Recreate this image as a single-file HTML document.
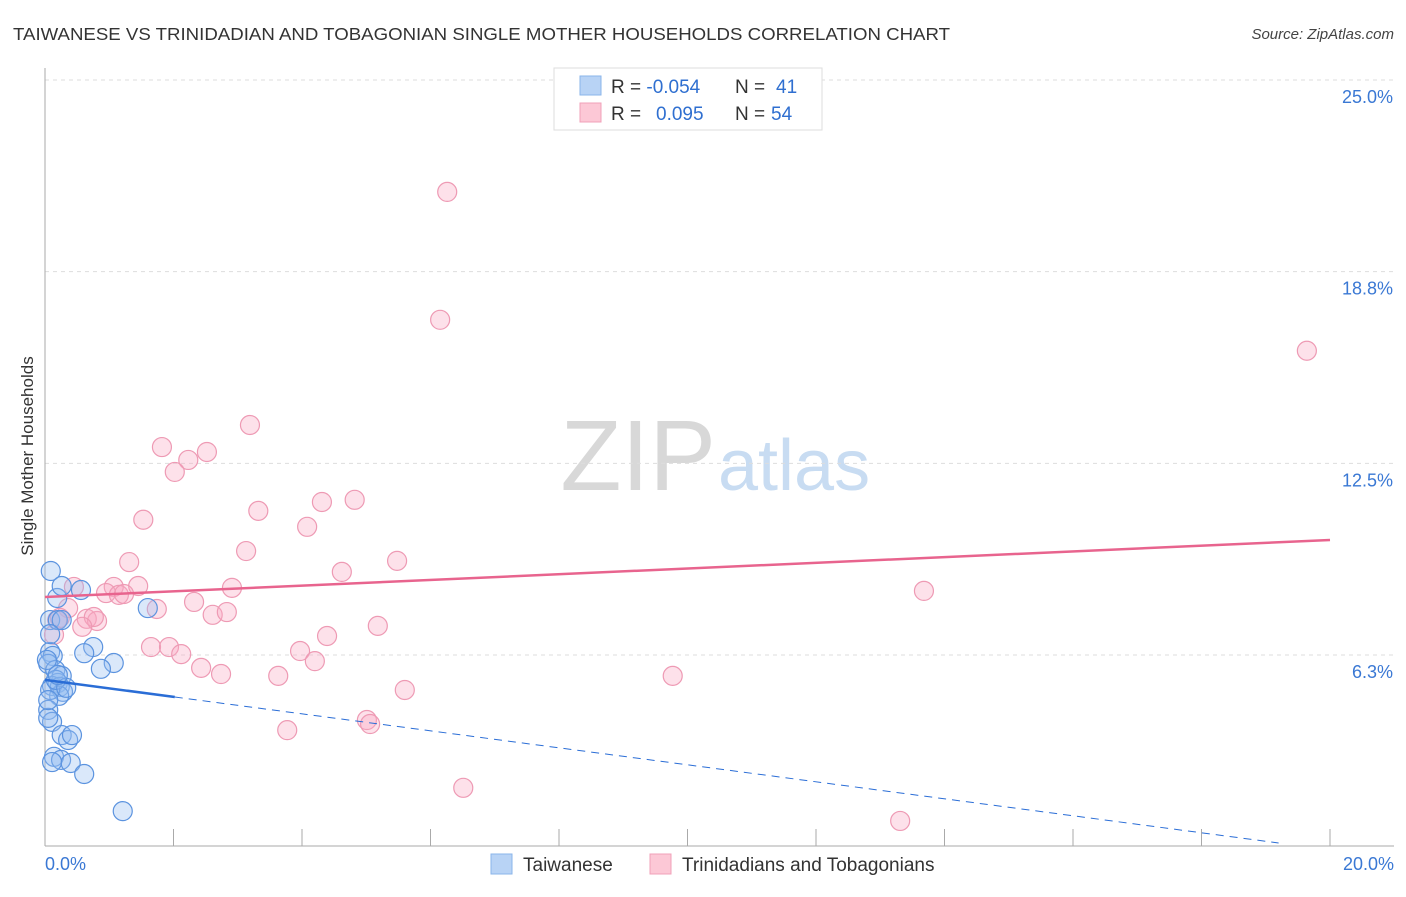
<!DOCTYPE html>
<html><head><meta charset="utf-8"><style>
body{margin:0;background:#fff;font-family:"Liberation Sans",sans-serif}
svg text{font-family:"Liberation Sans",sans-serif}
</style></head><body>
<svg id="c" width="1406" height="892" xmlns="http://www.w3.org/2000/svg">
<text x="13" y="40" font-size="17.5" fill="#333" textLength="937" lengthAdjust="spacingAndGlyphs">TAIWANESE VS TRINIDADIAN AND TOBAGONIAN SINGLE MOTHER HOUSEHOLDS CORRELATION CHART</text>
<text x="1394" y="39" font-size="15" fill="#444" text-anchor="end" font-style="italic">Source: ZipAtlas.com</text>
<text x="716" y="490" font-size="100" text-anchor="end" fill="#d8d8d8" font-family="Liberation Serif">ZIP</text>
<text x="718" y="490" font-size="72" fill="#c8dcf2">atlas</text>
<g id="grid"></g><g id="pts"></g><g id="trend"></g>
<text transform="translate(33,456) rotate(-90)" font-size="17" fill="#333" text-anchor="middle">Single Mother Households</text>
<g>
<rect x="554" y="68" width="268" height="62" fill="#fff" stroke="#ddd"/>
<rect x="580" y="76" width="21" height="19" fill="#b8d3f5" stroke="#8ab4ea"/>
<rect x="580" y="103" width="21" height="19" fill="#fcc8d6" stroke="#f0a0b8"/>
<text x="611" y="93" font-size="19" fill="#333">R = <tspan fill="#2f6fd0">-0.054</tspan><tspan x="735">N = </tspan><tspan fill="#2f6fd0" x="776">41</tspan></text>
<text x="611" y="120" font-size="19" fill="#333">R = <tspan fill="#2f6fd0" x="656">0.095</tspan><tspan x="735">N = </tspan><tspan fill="#2f6fd0" x="771">54</tspan></text>
</g>
<g>
<rect x="491" y="854" width="21" height="20" fill="#b8d3f5" stroke="#8ab4ea"/>
<text x="523" y="871" font-size="19" fill="#333">Taiwanese</text>
<rect x="650" y="854" width="21" height="20" fill="#fcc8d6" stroke="#f0a0b8"/>
<text x="682" y="871" font-size="19" fill="#333">Trinidadians and Tobagonians</text>
</g>
</svg>
<script>
const yTicks=[6.3,12.5,18.8,25.0];
const blueX=[.09,.19,.26,.56,1.60,.08,.20,.26,.75,.61,1.07,.87,.08,.12,.05,.16,.26,.20,.11,.23,.28,.22,.05,.11,.05,.26,.36,.42,.14,.25,.11,.40,.61,1.21,.08,.17,.03,.08,.05,.33,.20];
const blueY=[8.99,8.11,8.50,8.37,7.78,7.39,7.39,7.39,6.51,6.31,5.99,5.80,6.35,6.22,5.96,5.76,5.57,5.34,5.24,5.21,5.05,4.92,4.46,4.07,4.20,3.64,3.48,3.64,2.93,2.83,2.76,2.73,2.37,1.16,5.11,5.44,6.09,6.93,4.78,5.18,5.60];
const pinkX=[6.26,6.15,19.64,3.19,1.82,2.52,2.23,2.02,4.31,4.82,3.32,1.53,4.08,3.13,1.31,5.48,4.62,.45,2.91,1.45,1.07,.95,1.15,1.23,13.68,.36,1.74,2.32,2.61,2.83,.19,.65,.81,.76,.58,.14,5.18,4.39,1.65,1.93,2.12,3.97,4.20,2.43,2.74,3.63,9.77,5.60,5.01,5.06,3.77,6.51,13.31,.23];
const pinkY=[21.35,17.18,16.17,13.75,13.03,12.87,12.61,12.22,11.24,11.31,10.95,10.66,10.43,9.64,9.28,9.32,8.96,8.47,8.44,8.50,8.47,8.27,8.21,8.24,8.34,7.78,7.75,7.98,7.56,7.65,7.39,7.43,7.36,7.49,7.17,6.91,7.20,6.87,6.51,6.51,6.28,6.38,6.05,5.83,5.63,5.57,5.57,5.11,4.13,4.00,3.80,1.92,0.84,7.46];
const blueTrend=[5.44,-0.277]; // intercept, slope
const blueSolidEnd=2.02;
const blueDashEnd=19.2;
const pinkTrend=[8.14,0.093];
const X=v=>45+v*64.25, Y=v=>846.7-v*30.67;
const NS="http://www.w3.org/2000/svg";
function mk(p,t,a){const e=document.createElementNS(NS,t);for(const k in a)e.setAttribute(k,a[k]);p.appendChild(e);return e;}
const g=document.getElementById('grid');
[6.25,12.5,18.75,25].forEach((v,i)=>{
 const l=mk(g,'line',{x1:45,x2:1394,y1:Y(v),y2:Y(v),stroke:'#ddd','stroke-dasharray':'4,4'});
 
 
 const t=mk(g,'text',{x:1393,y:Y(v)+23,'font-size':18,fill:'#3a78d4','text-anchor':'end'});
 t.textContent=yTicks[i].toFixed(1)+'%';
 
 
});
mk(g,'line',{x1:45,x2:45,y1:68,y2:846,stroke:'#aaa'});
mk(g,'line',{x1:45,x2:1394,y1:846,y2:846,stroke:'#aaa'});
for(let i=1;i<=10;i++){const t=mk(g,'line',{x1:X(i*2),x2:X(i*2),y1:829,y2:846,stroke:'#aaa'});
 
 }
let t0=mk(g,'text',{x:45,y:870,'font-size':18,fill:'#3a78d4'});t0.textContent='0.0%';


let t1=mk(g,'text',{x:1394,y:870,'font-size':18,fill:'#3a78d4','text-anchor':'end'});t1.textContent='20.0%';


const P=document.getElementById('pts');
pinkX.forEach((x,i)=>{const c=mk(P,'circle',{cx:X(x),cy:Y(pinkY[i]),r:9.5,fill:'rgba(248,170,195,0.35)',stroke:'#ee9ab4','stroke-width':1.2});
 
 });
blueX.forEach((x,i)=>{const c=mk(P,'circle',{cx:X(x),cy:Y(blueY[i]),r:9.5,fill:'rgba(150,190,240,0.35)',stroke:'#5b93df','stroke-width':1.2});
 
 });
const T=document.getElementById('trend');
const bE=blueSolidEnd;
let a=mk(T,'line',{x1:X(0),y1:Y(blueTrend[0]),x2:X(bE),y2:Y(blueTrend[0]+blueTrend[1]*bE),stroke:'#2a6dd6','stroke-width':2.5});


let b=mk(T,'line',{x1:X(bE),y1:Y(blueTrend[0]+blueTrend[1]*bE),x2:X(blueDashEnd),y2:Y(blueTrend[0]+blueTrend[1]*blueDashEnd),stroke:'#2a6dd6','stroke-width':1,'stroke-dasharray':'8,6'});


let p=mk(T,'line',{x1:X(0),y1:Y(pinkTrend[0]),x2:X(20),y2:Y(pinkTrend[0]+pinkTrend[1]*20),stroke:'#e8648e','stroke-width':2.5});


</script>
</body></html>
